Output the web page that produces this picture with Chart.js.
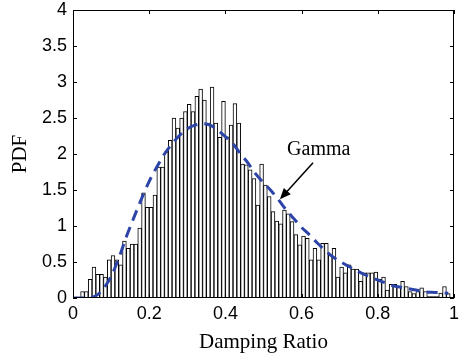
<!DOCTYPE html>
<html>
<head>
<meta charset="utf-8">
<script src="https://cdn.jsdelivr.net/npm/chart.js@4.4.1/dist/chart.umd.min.js"></script>
<style>
  html, body { margin: 0; padding: 0; background: #fff; }
  #chart { display: block; }
</style>
</head>
<body>
<canvas id="chart" width="462" height="361"></canvas>
<script>
// histogram: 100 bins of width 0.01 between 0 and 1
const binWidth = 0.01;
const pdfValues = [
  0, 0, 0.09, 0.09, 0.26, 0.43, 0.33, 0.33, 0.29, 0.53,
  0.59, 0.53, 0.46, 0.79, 0.69, 0.75, 0.75, 0.97, 1.46, 1.26,
  1.26, 1.43, 1.82, 1.82, 2.03, 2.19, 2.5, 2.36, 2.5, 2.59,
  2.69, 2.59, 2.8, 2.9, 2.75, 2.43, 2.93, 2.43, 2.23, 2.73,
  2.24, 2.4, 2.7, 2.43, 1.86, 1.85, 1.78, 1.66, 1.29, 1.86,
  1.57, 1.41, 1.2, 1.07, 1.03, 1.22, 1.17, 1.06, 0.88, 0.74,
  0.86, 0.83, 0.53, 0.69, 0.53, 0.76, 0.76, 0.6, 0.69, 0.29,
  0.43, 0.35, 0.46, 0.4, 0.4, 0.23, 0.35, 0.35, 0.35, 0.36,
  0.26, 0.29, 0.11, 0.19, 0.19, 0.16, 0.23, 0.16, 0.09, 0.06,
  0.09, 0.14, 0.09, 0.02, 0.02, 0.02, 0.07, 0.16, 0.06, 0
];

// fitted gamma curve
const gammaX = [0, 0.02, 0.04, 0.06, 0.08, 0.1, 0.12, 0.14, 0.16, 0.18,
  0.2, 0.22, 0.24, 0.26, 0.28, 0.3, 0.32, 0.34, 0.36, 0.38,
  0.4, 0.42, 0.44, 0.46, 0.48, 0.5, 0.52, 0.54, 0.56, 0.58,
  0.6, 0.62, 0.64, 0.66, 0.68, 0.7, 0.72, 0.74, 0.76, 0.78,
  0.8, 0.82, 0.84, 0.86, 0.88, 0.9, 0.92, 0.94, 0.96, 0.985];
const gammaY = [0, 0, 0, 0.03, 0.13, 0.3, 0.55, 0.85, 1.12, 1.38,
  1.62, 1.82, 2.0, 2.14, 2.26, 2.35, 2.4, 2.42, 2.4, 2.33,
  2.24, 2.14, 2.0, 1.87, 1.72, 1.6, 1.49, 1.36, 1.22, 1.1,
  0.98, 0.88, 0.77, 0.67, 0.58, 0.51, 0.45, 0.39, 0.34, 0.29,
  0.25, 0.21, 0.17, 0.15, 0.13, 0.11, 0.09, 0.08, 0.075, 0.065];

const xTicks = [0, 0.2, 0.4, 0.6, 0.8, 1];
const yTicks = [0, 0.5, 1, 1.5, 2, 2.5, 3, 3.5, 4];

// annotation (data coords)
const labelText = 'Gamma';
const labelAt = [0.562, 1.99];
const arrowFrom = [0.63, 1.88];
const arrowTo = [0.543, 1.37];

const histData = pdfValues.map((v, i) => ({x: (i + 0.5) * binWidth, y: v}));
const gammaData = gammaX.map((x, i) => ({x: x, y: gammaY[i]}));

const serif = '"Liberation Serif", "Times New Roman", serif';
const sans = '"Liberation Sans", Arial, sans-serif';

const framePlugin = {
  id: 'frame',
  afterDatasetsDraw(chart){
    const ctx = chart.ctx, a = chart.chartArea;
    const xs = chart.scales.x, ys = chart.scales.y;
    ctx.save();
    ctx.strokeStyle = '#000';
    ctx.lineWidth = 1;
    ctx.strokeRect(a.left + 0.5, a.top + 0.5, a.right - a.left - 1, a.bottom - a.top - 1);
    ctx.beginPath();
    for(let t of xTicks){
      const px = Math.round(xs.getPixelForValue(t)) + 0.5;
      ctx.moveTo(px, a.bottom); ctx.lineTo(px, a.bottom - 4);
      ctx.moveTo(px, a.top); ctx.lineTo(px, a.top + 4);
    }
    for(let t of yTicks){
      const py = Math.round(ys.getPixelForValue(t)) + 0.5;
      ctx.moveTo(a.left, py); ctx.lineTo(a.left + 4, py);
      ctx.moveTo(a.right, py); ctx.lineTo(a.right - 4, py);
    }
    ctx.stroke();

    // arrow + label
    const fx = xs.getPixelForValue(arrowFrom[0]), fy = ys.getPixelForValue(arrowFrom[1]);
    const tx = xs.getPixelForValue(arrowTo[0]), ty = ys.getPixelForValue(arrowTo[1]);
    const ang = Math.atan2(ty - fy, tx - fx);
    const head = 12;
    ctx.lineWidth = 1.5;
    ctx.beginPath();
    ctx.moveTo(fx, fy);
    ctx.lineTo(tx - Math.cos(ang) * head * 0.8, ty - Math.sin(ang) * head * 0.8);
    ctx.stroke();
    ctx.fillStyle = '#000';
    ctx.beginPath();
    ctx.moveTo(tx, ty);
    ctx.lineTo(tx - head * Math.cos(ang - 0.4), ty - head * Math.sin(ang - 0.4));
    ctx.lineTo(tx - head * Math.cos(ang + 0.4), ty - head * Math.sin(ang + 0.4));
    ctx.closePath();
    ctx.fill();

    ctx.font = '20px ' + serif;
    ctx.textAlign = 'left';
    ctx.textBaseline = 'alphabetic';
    ctx.fillText(labelText, xs.getPixelForValue(labelAt[0]), ys.getPixelForValue(labelAt[1]));
    ctx.restore();
  }
};

const data = {
  datasets: [{
    type: 'line',
    data: gammaData,
    borderColor: '#2c44a8',
    borderWidth: 3,
    borderDash: [11, 7],
    pointRadius: 0,
    cubicInterpolationMode: 'monotone',
    fill: false,
    order: 0
  }, {
    type: 'bar',
    data: histData,
    backgroundColor: '#fff',
    borderColor: '#000',
    borderWidth: 1,
    borderSkipped: 'start',
    barPercentage: 1,
    categoryPercentage: 1,
    order: 1
  }]
};

const config = {
  type: 'bar',
  data: data,
  plugins: [framePlugin],
  options: {
    responsive: false,
    animation: false,
    events: [],
    layout: { padding: { top: 10, right: 8, left: 0, bottom: 0 } },
    plugins: { legend: { display: false }, tooltip: { enabled: false } },
    scales: {
      x: {
        type: 'linear',
        min: 0, max: 1,
        offset: false,
        grid: { display: false, drawTicks: false },
        border: { display: false },
        afterFit: s => { s.height = 63; s.paddingLeft = 0; s.paddingRight = 0; },
        afterBuildTicks: s => { s.ticks = xTicks.map(v => ({value: v})); },
        ticks: {
          color: '#000',
          font: { family: sans, size: 18 },
          padding: 5,
          maxRotation: 0,
          callback: v => String(v)
        },
        title: {
          display: true,
          text: 'Damping Ratio',
          color: '#000',
          font: { family: serif, size: 21 },
          padding: { top: 0, bottom: 6 }
        }
      },
      y: {
        min: 0, max: 4,
        grid: { display: false, drawTicks: false },
        border: { display: false },
        afterFit: s => { s.width = 73; s.paddingTop = 0; s.paddingBottom = 0; },
        afterBuildTicks: s => { s.ticks = yTicks.map(v => ({value: v})); },
        ticks: {
          color: '#000',
          font: { family: sans, size: 18 },
          padding: 6,
          callback: v => String(v)
        },
        title: {
          display: true,
          text: 'PDF',
          color: '#000',
          font: { family: serif, size: 21 },
          padding: { top: 8, bottom: 0 }
        }
      }
    }
  }
};

new Chart(document.getElementById('chart'), config);
</script>
</body>
</html>
